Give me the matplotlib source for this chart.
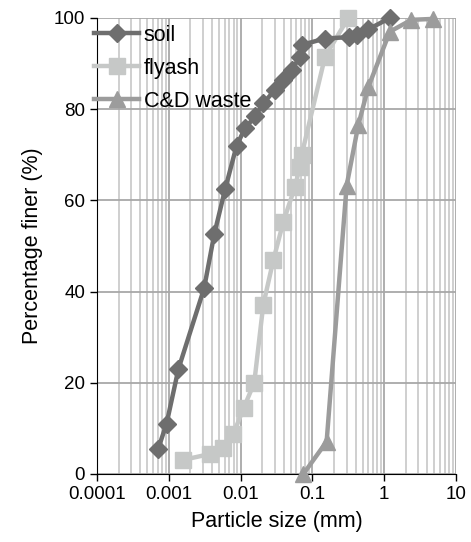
import matplotlib.pyplot as plt
from matplotlib.ticker import LogLocator, FixedLocator, NullFormatter

plt.rcParams['font.family'] = ['Liberation Sans', 'DejaVu Sans']

# Grain size distribution data (particle size in mm, percent finer)
soil_size = [0.00071, 0.00093, 0.00136, 0.0031, 0.0043, 0.0061, 0.0088,
             0.0115, 0.0159, 0.0207, 0.0301, 0.0394, 0.0515, 0.0672, 0.071,
             0.15, 0.32, 0.42, 0.6, 1.2]
soil_finer = [5.5, 11, 23, 40.7, 52.6, 62.5, 72,
              75.8, 78.4, 81.3, 84.2, 86.4, 88.6, 91.5, 94.1,
              95.5, 95.8, 96.3, 97.5, 100]

flyash_size = [0.0016, 0.0038, 0.0056, 0.0079, 0.011, 0.0155, 0.0207,
               0.0286, 0.0394, 0.0573, 0.067, 0.071, 0.15, 0.316]
flyash_finer = [3.1, 4.4, 5.8, 8.7, 14.4, 20, 37.1,
                46.9, 55.3, 63, 67.4, 70, 91.5, 100]

cdw_size = [0.075, 0.158, 0.30, 0.436, 0.60, 1.2, 2.4, 4.8]
cdw_finer = [0, 7.1, 63.2, 76.5, 84.8, 97, 99.6, 99.8]

fig = plt.figure(figsize=(4.71, 5.42), dpi=100)
ax = fig.add_axes([0.206, 0.1255, 0.762, 0.8413])

ax.plot(soil_size, soil_finer, color='#6e6e6e', lw=3.2, marker='D', ms=9.5,
        label='soil', zorder=4, clip_on=False)
ax.plot(flyash_size, flyash_finer, color='#c6c8c7', lw=3.2, marker='s', ms=11,
        label='flyash', zorder=3, clip_on=False)
ax.plot(cdw_size, cdw_finer, color='#9c9c9c', lw=3.2, marker='^', ms=12,
        label='C&D waste', zorder=5, clip_on=False)

ax.set_xscale('log')
ax.set_xlim(0.0001, 10)
ax.set_ylim(0, 100)
ax.xaxis.set_major_locator(FixedLocator([0.0001, 0.001, 0.01, 0.1, 1, 10]))
ax.set_xticklabels(['0.0001', '0.001', '0.01', '0.1', '1', '10'])
ax.xaxis.set_minor_locator(LogLocator(base=10, subs=range(2, 10)))
ax.xaxis.set_minor_formatter(NullFormatter())
ax.set_yticks([0, 20, 40, 60, 80, 100])

ax.grid(True, which='major', color='#a8a8a8', lw=1.3)
ax.grid(True, which='minor', axis='x', color='#cccccc', lw=1.3)
ax.set_axisbelow(True)

for side in ['top', 'right']:
    ax.spines[side].set_visible(False)
ax.tick_params(which='major', labelsize=13.5, length=5, width=1, direction='out')
ax.tick_params(which='minor', length=0)

ax.set_xlabel('Particle size (mm)', fontsize=15.5, labelpad=6)
ax.set_ylabel('Percentage finer (%)', fontsize=15.5, labelpad=8)

ax.legend(loc='upper left', frameon=False, fontsize=15.5, handlelength=2.1,
          handletextpad=0.2, borderaxespad=0, borderpad=0,
          labelspacing=0.55, bbox_to_anchor=(-0.008, 0.985))

fig.savefig('out.png', dpi=100)
